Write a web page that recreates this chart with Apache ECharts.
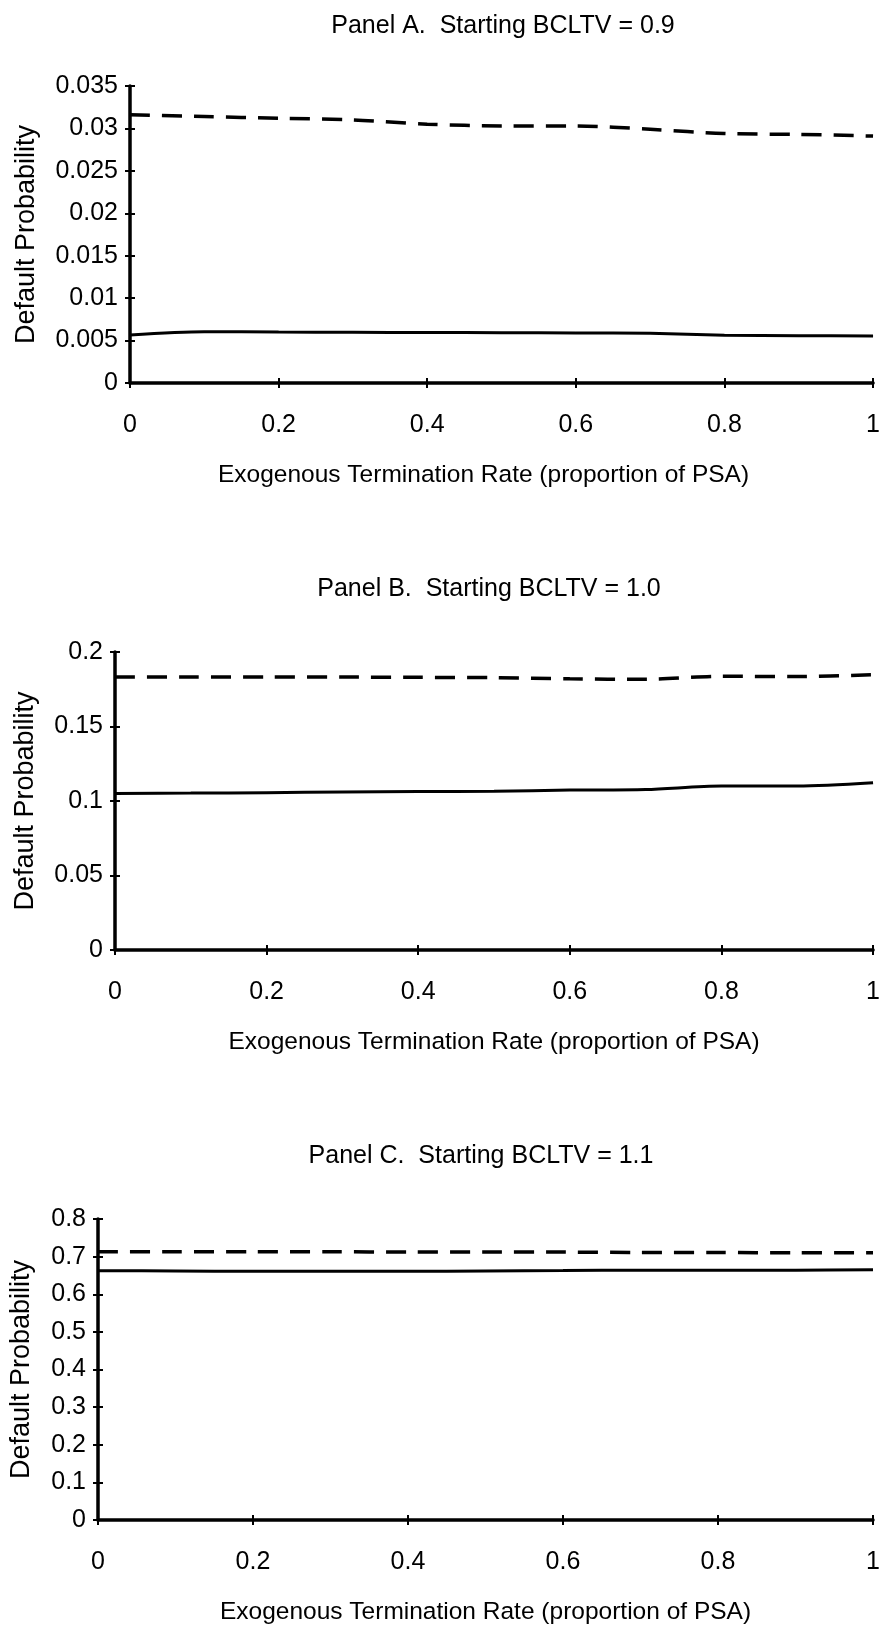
<!DOCTYPE html>
<html>
<head>
<meta charset="utf-8">
<title>Default Probability vs Exogenous Termination Rate</title>
<script src="https://cdn.jsdelivr.net/npm/echarts@6/dist/echarts.min.js"></script>
<style>
    html, body { margin: 0; padding: 0; background: #fff; }
    #chart { width: 883px; height: 1633px; }
</style>
</head>
<body>
<div id="chart"></div>
<script>
// x values: exogenous termination rate (proportion of PSA)
const rateX = [0, 0.1, 0.2, 0.3, 0.4, 0.5, 0.6, 0.7, 0.8, 0.9, 1.0]

// Panel A, starting BCLTV = 0.9
const panelADashed = [0.0316, 0.0314, 0.0312, 0.0310, 0.0305, 0.0303, 0.0303, 0.0299, 0.0294, 0.0293, 0.0291]
const panelASolid = [0.00566, 0.00605, 0.00600, 0.00597, 0.00595, 0.00593, 0.00590, 0.00585, 0.00562, 0.00557, 0.00554]

// Panel B, starting BCLTV = 1.0
const panelBDashed = [0.1833, 0.1833, 0.1833, 0.1832, 0.1830, 0.1828, 0.1820, 0.1817, 0.1837, 0.1835, 0.1848]
const panelBSolid = [0.1051, 0.1053, 0.1056, 0.1060, 0.1063, 0.1066, 0.1073, 0.1077, 0.1100, 0.1100, 0.1122]

// Panel C, starting BCLTV = 1.1
const panelCDashed = [0.713, 0.713, 0.713, 0.713, 0.712, 0.712, 0.712, 0.711, 0.711, 0.710, 0.710]
const panelCSolid = [0.6625, 0.662, 0.661, 0.661, 0.661, 0.662, 0.663, 0.664, 0.664, 0.664, 0.665]

const panelTitles = ['Panel A.  Starting BCLTV = 0.9', 'Panel B.  Starting BCLTV = 1.0', 'Panel C.  Starting BCLTV = 1.1']
const yMax = [0.035, 0.2, 0.8]
const yStep = [0.005, 0.05, 0.1]
const xName = 'Exogenous Termination Rate (proportion of PSA)'
const yName = 'Default Probability'

const FONT = '"Liberation Sans", Arial, sans-serif'

let page = {
    $chart: echarts.init(document.getElementById('chart')),
    // layout of each panel (pixels)
    panels: [
        { left: 130, top: 86, width: 750, height: 297, titleX: 498, titleTop: 9, yGap: 90, xShift: 36 },
        { left: 115, top: 652, width: 762, height: 298, titleX: 484, titleTop: 572, yGap: 76, xShift: 0 },
        { left: 97, top: 1219, width: 776, height: 301, titleX: 476, titleTop: 1139, yGap: 63, xShift: 0 }
    ],
    init() {
        this.render()
    },
    pairs(values) {
        return rateX.map((x, i) => [x, values[i]])
    },
    render() {
        const me = this
        const dashed = [panelADashed, panelBDashed, panelCDashed]
        const solid = [panelASolid, panelBSolid, panelCSolid]
        let grid = [], xAxis = [], yAxis = [], series = [], title = []

        me.panels.forEach((p, i) => {
            grid.push({ left: p.left, top: p.top, width: p.width, height: p.height })
            title.push({
                text: panelTitles[i],
                left: p.titleX,
                top: p.titleTop,
                textAlign: 'center',
                textStyle: { fontFamily: FONT, fontSize: 25, fontWeight: 'normal', color: '#000' }
            })
            // main axes (outer ticks, labels)
            xAxis.push({
                type: 'value', gridIndex: i, min: 0, max: 1, interval: 0.2,
                name: xName, nameLocation: 'middle', nameGap: 80,
                nameTextStyle: { fontFamily: FONT, fontSize: 24.5, color: '#000', padding: [0, p.xShift, 0, 0] },
                axisLine: { show: true, lineStyle: { color: '#000', width: 3.5 } },
                axisTick: { show: true, length: 5, lineStyle: { color: '#000', width: 2 } },
                axisLabel: { margin: 30, fontFamily: FONT, fontSize: 25, color: '#000' },
                splitLine: { show: false }
            })
            yAxis.push({
                type: 'value', gridIndex: i, min: 0, max: yMax[i], interval: yStep[i],
                name: yName, nameLocation: 'middle', nameGap: p.yGap,
                nameTextStyle: { fontFamily: FONT, fontSize: 27, color: '#000' },
                axisLine: { show: true, lineStyle: { color: '#000', width: 3.5 } },
                axisTick: { show: true, length: 5, lineStyle: { color: '#000', width: 2 } },
                axisLabel: { margin: 12, fontFamily: FONT, fontSize: 25, color: '#000' },
                splitLine: { show: false }
            })
            // twin axes for the inner half of the cross ticks
            xAxis.push({
                type: 'value', gridIndex: i, min: 0, max: 1, interval: 0.2, position: 'bottom',
                axisLine: { show: false },
                axisTick: { show: true, inside: true, length: 5, lineStyle: { color: '#000', width: 2 } },
                axisLabel: { show: false },
                splitLine: { show: false }
            })
            yAxis.push({
                type: 'value', gridIndex: i, min: 0, max: yMax[i], interval: yStep[i], position: 'left',
                axisLine: { show: false },
                axisTick: { show: true, inside: true, length: 5, lineStyle: { color: '#000', width: 2 } },
                axisLabel: { show: false },
                splitLine: { show: false }
            })
            series.push({
                type: 'line', xAxisIndex: i * 2, yAxisIndex: i * 2,
                data: me.pairs(dashed[i]), showSymbol: false, smooth: 0.3,
                lineStyle: { color: '#000', width: 3.5, type: [20, 12] }
            })
            series.push({
                type: 'line', xAxisIndex: i * 2, yAxisIndex: i * 2,
                data: me.pairs(solid[i]), showSymbol: false, smooth: 0.3,
                lineStyle: { color: '#000', width: 3 }
            })
        })

        me.$chart.setOption({
            backgroundColor: '#fff',
            animation: false,
            title: title,
            grid: grid,
            xAxis: xAxis,
            yAxis: yAxis,
            series: series
        })
    }
}
page.init()
</script>
</body>
</html>
